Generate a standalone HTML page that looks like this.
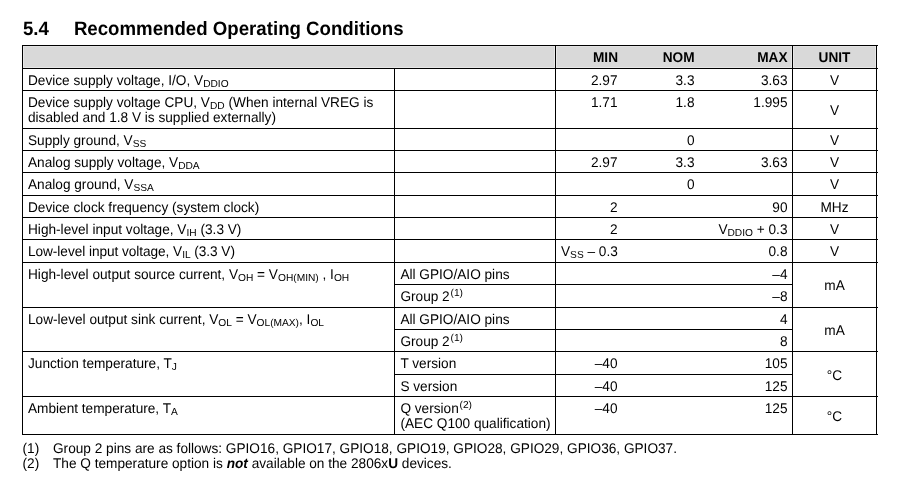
<!DOCTYPE html>
<html><head><meta charset="utf-8">
<style>
html,body{margin:0;padding:0;background:#fff;}
body{width:907px;height:490px;position:relative;overflow:hidden;font-family:"Liberation Sans",sans-serif;font-size:13.65px;line-height:15px;color:#000;text-rendering:geometricPrecision;}
.h{position:absolute;left:22px;width:856px;height:1px;background:#000;}
.v{position:absolute;width:1px;background:#000;}
.g{position:absolute;top:46px;width:1px;height:22px;background:#e8e8e8;}
.t{position:absolute;white-space:nowrap;transform:scaleY(1.03);transform-origin:0 0;}
.r{text-align:right;}
.c{text-align:center;}
.b{font-weight:bold;}
sub{font-size:10.2px;vertical-align:baseline;position:relative;top:2px;line-height:0;display:inline-block;transform:scaleY(0.971);transform-origin:0 100%;}
sup{font-size:10.2px;vertical-align:baseline;position:relative;top:-5px;margin-left:0.8px;line-height:0;display:inline-block;transform:scaleY(0.971);transform-origin:0 100%;}
h1{position:absolute;margin:0;left:22.9px;top:17.2px;font-size:18.67px;line-height:22px;font-weight:bold;white-space:nowrap;transform:scaleY(1.04);transform-origin:0 0;}
h1 span{position:absolute;left:51px;top:0;}
</style></head><body>
<h1>5.4<span>Recommended Operating Conditions</span></h1>
<div style="position:absolute;left:23px;top:46px;width:853px;height:22px;background:#d9d9d9"></div>
<div style="position:absolute;left:23px;top:46px;width:853px;height:1px;background:#e2e2e2"></div>
<div style="position:absolute;left:23px;top:67px;width:853px;height:1px;background:#e8e8e8"></div>
<div class="g" style="left:23px"></div><div class="g" style="left:554px"></div><div class="g" style="left:556px"></div><div class="g" style="left:791px"></div><div class="g" style="left:793px"></div><div class="g" style="left:875px"></div>

<div class="h" style="top:45px"></div>
<div class="h" style="top:68px"></div>
<div class="h" style="top:90px"></div>
<div class="h" style="top:128px"></div>
<div class="h" style="top:150px"></div>
<div class="h" style="top:172px"></div>
<div class="h" style="top:195px"></div>
<div class="h" style="top:217px"></div>
<div class="h" style="top:239px"></div>
<div class="h" style="top:262px"></div>
<div class="h" style="top:284px;left:394px;width:399px"></div>
<div class="h" style="top:307px"></div>
<div class="h" style="top:329px;left:394px;width:399px"></div>
<div class="h" style="top:351px"></div>
<div class="h" style="top:374px;left:394px;width:399px"></div>
<div class="h" style="top:396px"></div>
<div class="h" style="top:434px"></div>
<div class="v" style="left:22px;top:45px;height:390px"></div>
<div class="v" style="left:394px;top:68px;height:367px"></div>
<div class="v" style="left:555px;top:45px;height:390px"></div>
<div class="v" style="left:792px;top:45px;height:390px"></div>
<div class="v" style="left:876px;top:45px;height:390px"></div>
<div class="t r b" style="left:518.0px;width:100px;top:50px">MIN</div>
<div class="t r b" style="left:594.5px;width:100px;top:50px">NOM</div>
<div class="t r b" style="left:687.5px;width:100px;top:50px">MAX</div>
<div class="t c b" style="left:794.5px;width:80px;top:50px">UNIT</div>
<div class="t " style="left:28.0px;top:73px">Device supply voltage, I/O, V<sub>DDIO</sub></div>
<div class="t r " style="left:517.5px;width:100px;top:73px">2.97</div>
<div class="t r " style="left:594.5px;width:100px;top:73px">3.3</div>
<div class="t r " style="left:687.5px;width:100px;top:73px">3.63</div>
<div class="t c " style="left:794.5px;width:80px;top:73px">V</div>
<div class="t " style="left:28.0px;top:95px">Device supply voltage CPU, V<sub>DD</sub> (When internal VREG is</div>
<div class="t " style="left:28.0px;top:110px">disabled and 1.8 V is supplied externally)</div>
<div class="t r " style="left:517.5px;width:100px;top:95px">1.71</div>
<div class="t r " style="left:594.5px;width:100px;top:95px">1.8</div>
<div class="t r " style="left:687.5px;width:100px;top:95px">1.995</div>
<div class="t c " style="left:794.5px;width:80px;top:103px">V</div>
<div class="t " style="left:28.0px;top:133px">Supply ground, V<sub>SS</sub></div>
<div class="t r " style="left:594.5px;width:100px;top:133px">0</div>
<div class="t c " style="left:794.5px;width:80px;top:133px">V</div>
<div class="t " style="left:28.0px;top:155px">Analog supply voltage, V<sub>DDA</sub></div>
<div class="t r " style="left:517.5px;width:100px;top:155px">2.97</div>
<div class="t r " style="left:594.5px;width:100px;top:155px">3.3</div>
<div class="t r " style="left:687.5px;width:100px;top:155px">3.63</div>
<div class="t c " style="left:794.5px;width:80px;top:155px">V</div>
<div class="t " style="left:28.0px;top:177px">Analog ground, V<sub>SSA</sub></div>
<div class="t r " style="left:594.5px;width:100px;top:177px">0</div>
<div class="t c " style="left:794.5px;width:80px;top:177px">V</div>
<div class="t " style="left:28.0px;top:200px">Device clock frequency (system clock)</div>
<div class="t r " style="left:517.5px;width:100px;top:200px">2</div>
<div class="t r " style="left:687.5px;width:100px;top:200px">90</div>
<div class="t c " style="left:794.5px;width:80px;top:200px">MHz</div>
<div class="t " style="left:28.0px;top:222px">High-level input voltage, V<sub>IH</sub> (3.3 V)</div>
<div class="t r " style="left:517.5px;width:100px;top:222px">2</div>
<div class="t r " style="left:687.5px;width:100px;top:222px">V<sub>DDIO</sub> + 0.3</div>
<div class="t c " style="left:794.5px;width:80px;top:222px">V</div>
<div class="t " style="left:28.0px;top:244px"><span style="letter-spacing:-0.05px">Low-level input voltage, V<sub>IL</sub> (3.3 V)</span></div>
<div class="t " style="left:561px;top:244px">V<sub>SS</sub> – 0.3</div>
<div class="t r " style="left:687.5px;width:100px;top:244px">0.8</div>
<div class="t c " style="left:794.5px;width:80px;top:244px">V</div>
<div class="t " style="left:28.0px;top:267px">High-level output source current, V<sub>OH</sub> = V<sub>OH(MIN)</sub> , I<sub>OH</sub></div>
<div class="t " style="left:400.4px;top:267px">All GPIO/AIO pins</div>
<div class="t r " style="left:687.5px;width:100px;top:267px">–4</div>
<div class="t " style="left:400.4px;top:289px">Group 2<sup>(1)</sup></div>
<div class="t r " style="left:687.5px;width:100px;top:289px">–8</div>
<div class="t c " style="left:794.5px;width:80px;top:278px">mA</div>
<div class="t " style="left:28.0px;top:312px">Low-level output sink current, V<sub>OL</sub> = V<sub>OL(MAX)</sub>, I<sub>OL</sub></div>
<div class="t " style="left:400.4px;top:312px">All GPIO/AIO pins</div>
<div class="t r " style="left:687.5px;width:100px;top:312px">4</div>
<div class="t " style="left:400.4px;top:334px">Group 2<sup>(1)</sup></div>
<div class="t r " style="left:687.5px;width:100px;top:334px">8</div>
<div class="t c " style="left:794.5px;width:80px;top:323px">mA</div>
<div class="t " style="left:28.0px;top:356px">Junction temperature, T<sub>J</sub></div>
<div class="t " style="left:400.4px;top:356px">T version</div>
<div class="t r " style="left:517.5px;width:100px;top:356px">–40</div>
<div class="t r " style="left:687.5px;width:100px;top:356px">105</div>
<div class="t " style="left:400.4px;top:379px">S version</div>
<div class="t r " style="left:517.5px;width:100px;top:379px">–40</div>
<div class="t r " style="left:687.5px;width:100px;top:379px">125</div>
<div class="t c " style="left:794.5px;width:80px;top:368px">°C</div>
<div class="t " style="left:28.0px;top:401px">Ambient temperature, T<sub>A</sub></div>
<div class="t " style="left:400.4px;top:401px">Q version<sup>(2)</sup></div>
<div class="t " style="left:400.4px;top:416px">(AEC Q100 qualification)</div>
<div class="t r " style="left:517.5px;width:100px;top:401px">–40</div>
<div class="t r " style="left:687.5px;width:100px;top:401px">125</div>
<div class="t c " style="left:794.5px;width:80px;top:409px">°C</div>
<div class="t " style="left:22.5px;top:441px">(1)</div>
<div class="t " style="left:53px;top:441px">Group 2 pins are as follows: GPIO16, GPIO17, GPIO18, GPIO19, GPIO28, GPIO29, GPIO36, GPIO37.</div>
<div class="t " style="left:22.5px;top:456px">(2)</div>
<div class="t " style="left:53px;top:456px">The Q temperature option is <b><i>not</i></b> available on the 2806x<b>U</b> devices.</div>
</body></html>
